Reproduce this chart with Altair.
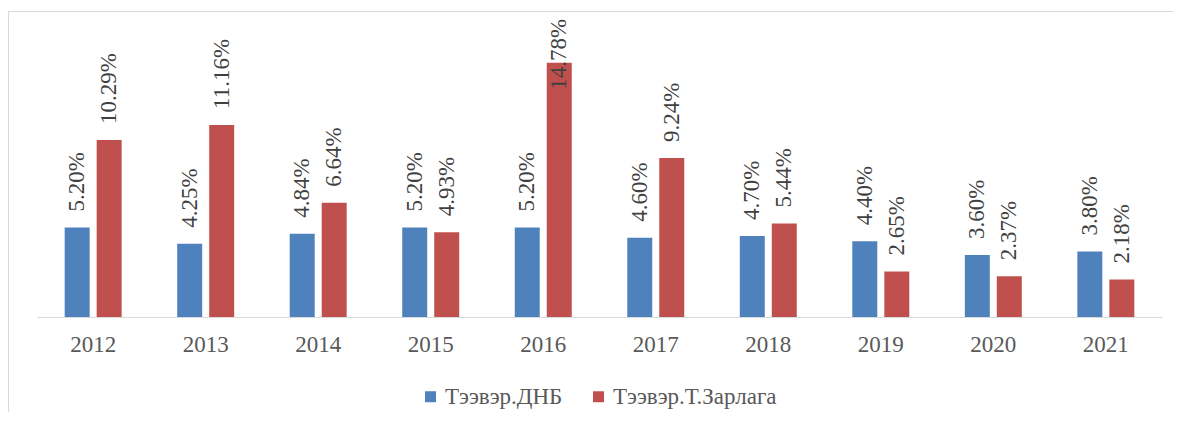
import altair as alt
import pandas as pd

years = ["2012", "2013", "2014", "2015", "2016", "2017", "2018", "2019", "2020", "2021"]
series_names = ["Тээвэр.ДНБ", "Тээвэр.Т.Зарлага"]
dnb = [5.20, 4.25, 4.84, 5.20, 5.20, 4.60, 4.70, 4.40, 3.60, 3.80]
zarlaga = [10.29, 11.16, 6.64, 4.93, 14.78, 9.24, 5.44, 2.65, 2.37, 2.18]
colors = ["#4f81bd", "#c0504d"]

rows = []
for i, yr in enumerate(years):
    rows.append({"year": yr, "series": series_names[0], "value": dnb[i]})
    rows.append({"year": yr, "series": series_names[1], "value": zarlaga[i]})
df = pd.DataFrame(rows)

FONT = "Liberation Serif"

x = alt.X(
    "year:N", sort=years, title=None,
    scale=alt.Scale(paddingInner=0.4936, paddingOuter=0.246),
    axis=alt.Axis(labelAngle=0, labelFont=FONT, labelFontSize=23, labelColor="#595959",
                  ticks=False, tickSize=0, labelPadding=16, domainColor="#d9d9d9",
                  domainWidth=1, grid=False),
)
xo = alt.XOffset("series:N", sort=series_names, scale=alt.Scale(paddingInner=0.219, paddingOuter=0))
yscale = alt.Scale(domain=[0, 17.2], nice=False, zero=True)
y = alt.Y("value:Q", scale=yscale, axis=None)

base = alt.Chart(df)

bars = base.mark_bar().encode(
    x=x, xOffset=xo, y=y,
    color=alt.Color(
        "series:N", sort=series_names,
        scale=alt.Scale(domain=series_names, range=colors),
        legend=alt.Legend(title=None, orient="none", legendX=382, legendY=364,
                          direction="horizontal", symbolType="square", symbolSize=121,
                          symbolStrokeWidth=0, labelFont=FONT, labelFontSize=23,
                          labelColor="#595959", labelOffset=3, columnPadding=24,
                          labelLimit=400),
    ),
)

labels = base.transform_calculate(
    label="format(datum.value, '.2f') + '%'",
    lp="min(datum.value + 0.93, 13.2)",
).mark_text(angle=270, align="left", baseline="middle", font=FONT,
            fontSize=23, color="#404040").encode(
    x=x, xOffset=xo, y=alt.Y("lp:Q", scale=yscale, axis=None), text="label:N"
)

frame_df = pd.DataFrame({"k": [0]})
top_rule = alt.Chart(frame_df).mark_rule(color="#d9d9d9", strokeWidth=1).encode(
    x=alt.value(-29), x2=alt.value(1140), y=alt.value(-9.5)
)
left_rule = alt.Chart(frame_df).mark_rule(color="#d9d9d9", strokeWidth=1).encode(
    x=alt.value(-28.5), y=alt.value(-9.5), y2=alt.value(400)
)

chart = alt.layer(bars, labels, top_rule, left_rule).properties(
    width=1125, height=296,
    autosize=alt.AutoSizeParams(type="none"),
    padding={"left": 29, "top": 13, "right": 11, "bottom": 95},
).configure_view(stroke=None)

chart.save("out.html", embed_options={"renderer": "svg", "actions": False})
